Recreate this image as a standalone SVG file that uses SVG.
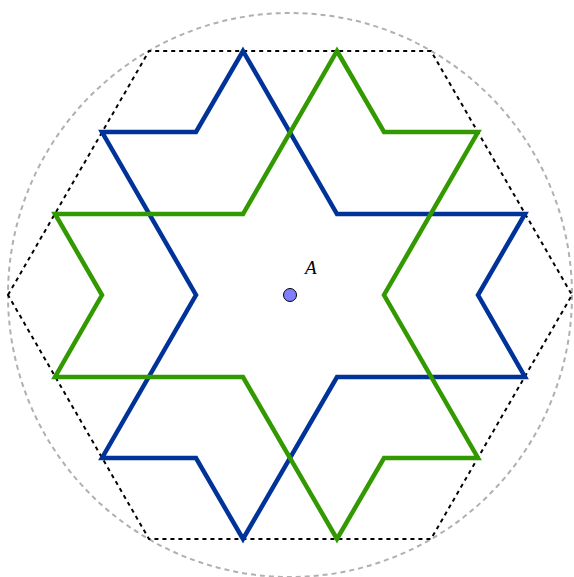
<svg xmlns="http://www.w3.org/2000/svg" width="574" height="577" viewBox="0 0 574 577">
<style>
.circ{fill:none;stroke:#b0b0b0;stroke-width:2;stroke-dasharray:5,4}
.hex{fill:none;stroke:#000;stroke-width:2;stroke-dasharray:4,4}
.blue{fill:none;stroke:#003399;stroke-width:4.5;stroke-linejoin:miter}
.green{fill:none;stroke:#339900;stroke-width:4.5;stroke-linejoin:miter}
.pt{fill:#8080ff;stroke:#000;stroke-width:1}
.lbl{font-family:"Liberation Serif",serif;font-style:italic;font-size:19px;fill:#000}
</style>
<rect width="574" height="577" fill="#fff"/>
<g id="circle"><circle class="circ" cx="290" cy="295" r="282"/></g>
<g id="hexagon"><polygon class="hex" points="8,295 149,51 431,51 572,295 431,539 149,539"/></g>
<g id="blue-star"><polygon class="blue" points="243,51 337,214 525,214 478,295 525,377 337,377 243,539 196,458 102,458 196,295 102,132 196,132"/></g>
<g id="green-star"><polygon class="green" points="337,51 384,132 478,132 384,295 478,458 384,458 337,539 243,377 55,377 102,295 55,214 243,214"/></g>
<g id="A">
<circle class="pt" cx="290" cy="295" r="6.5"/>
<text class="lbl" x="305" y="274">A</text>
</g>
</svg>
